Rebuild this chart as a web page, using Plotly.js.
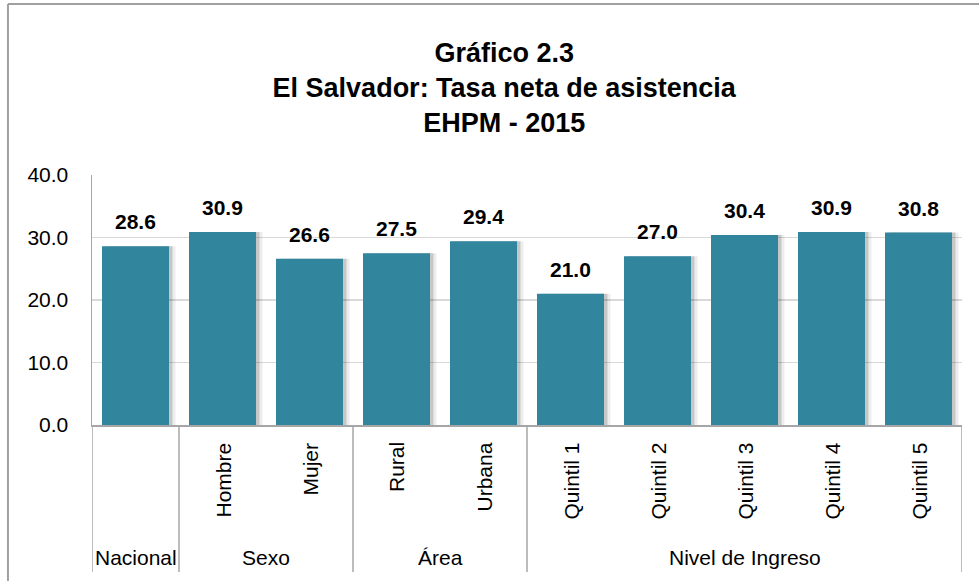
<!DOCTYPE html>
<html>
<head>
<meta charset="utf-8">
<script src="https://cdn.plot.ly/plotly-3.0.1.min.js"></script>
<style>
html,body{margin:0;padding:0;background:#fff;}
#chart{width:979px;height:581px;}
</style>
</head>
<body>
<div id="chart"></div>
<script>
// ---- data ----
const groups = ["Nacional","Sexo","Sexo","Área","Área","Nivel de Ingreso","Nivel de Ingreso","Nivel de Ingreso","Nivel de Ingreso","Nivel de Ingreso"];
const subLabels = ["","Hombre","Mujer","Rural","Urbana","Quintil 1","Quintil 2","Quintil 3","Quintil 4","Quintil 5"];
const values = [28.6,30.9,26.6,27.5,29.4,21.0,27.0,30.4,30.9,30.8];
const yTicks = [0,10,20,30,40];

// ---- styling ----
const FONT = '"Liberation Sans", Arial, sans-serif';
const BAR = '#31859C';
const LINEC = '#a6a6a6';
const xs = values.map((v,i)=>i);
const BW = 0.77;

const traces = [
  {type:'bar', x:xs, y:values, width:BW, offset:-BW/2+0.075, marker:{color:'rgba(0,0,0,0.07)'}, hoverinfo:'skip', showlegend:false},
  {type:'bar', x:xs, y:values, width:BW, offset:-BW/2+0.04, marker:{color:'rgba(0,0,0,0.16)'}, hoverinfo:'skip', showlegend:false},
  {type:'bar', x:xs, y:values, width:BW, offset:-BW/2, marker:{color:BAR}, showlegend:false, name:'Tasa neta de asistencia'}
];

const annotations = [];
// data labels
values.forEach((v,i)=>{
  annotations.push({x:i, y:v, xref:'x', yref:'y', text:v.toFixed(1), showarrow:false,
    yanchor:'bottom', yshift:11, font:{family:FONT, size:21, color:'#000', weight:'bold'}});
});
// sub category labels (rotated)
subLabels.forEach((s,i)=>{
  if(!s) return;
  annotations.push({x:i, y:-0.062, xref:'x', yref:'paper', text:s, showarrow:false, textangle:-90,
    xanchor:'center', yanchor:'top', font:{family:FONT, size:21, color:'#000'}});
});
// group labels
const groupSpans = [];
groups.forEach((g,i)=>{
  const last = groupSpans[groupSpans.length-1];
  if(last && last.name===g){ last.end=i; } else { groupSpans.push({name:g,start:i,end:i}); }
});
groupSpans.forEach(gs=>{
  annotations.push({x:(gs.start+gs.end)/2, y:-0.528, xref:'x', yref:'paper', text:gs.name, showarrow:false,
    xanchor:'center', yanchor:'middle', font:{family:FONT, size:21, color:'#000'}});
});

const shapes = [];
// group dividers
const dividers = [-0.5].concat(groupSpans.map(gs=>gs.end+0.5));
dividers.forEach(d=>{
  shapes.push({type:'line', xref:'x', yref:'paper', x0:d, x1:d, y0:0, y1:-0.588, line:{color:LINEC, width:1.5}});
});
// outer chart frame
shapes.push({type:'line', xref:'paper', yref:'paper', x0:-0.0966, x1:-0.0966, y0:1.684, y1:-0.7, line:{color:'#a0a0a0', width:2}});
shapes.push({type:'line', xref:'paper', yref:'paper', x0:-0.0966, x1:1.1, y0:1.684, y1:1.684, line:{color:'#a0a0a0', width:2}});

const layout = {
  width:979, height:581,
  margin:{l:92, r:17, t:175, b:156},
  paper_bgcolor:'#fff', plot_bgcolor:'#fff',
  barmode:'overlay',
  font:{family:FONT, color:'#000'},
  title:{text:'Gráfico 2.3<br>El Salvador: Tasa neta de asistencia<br>EHPM - 2015',
    font:{family:FONT, size:27, color:'#000', weight:'bold'},
    xref:'container', yref:'container', x:0.515, y:1-62/581, xanchor:'center', yanchor:'middle'},
  xaxis:{range:[-0.5,9.5], showticklabels:false, ticks:'', showgrid:false, zeroline:false,
    showline:true, linecolor:LINEC, linewidth:1.5, fixedrange:true},
  yaxis:{range:[0,40], tickvals:yTicks, tickformat:'.1f', ticks:'', ticklabelstandoff:18,
    tickfont:{family:FONT, size:21, color:'#000'},
    showgrid:true, gridcolor:'#d9d9d9', gridwidth:1.5, zeroline:false,
    showline:true, linecolor:LINEC, linewidth:1.5, fixedrange:true},
  annotations:annotations,
  shapes:shapes
};

Plotly.newPlot('chart', traces, layout, {displayModeBar:false, staticPlot:true});
</script>
</body>
</html>
